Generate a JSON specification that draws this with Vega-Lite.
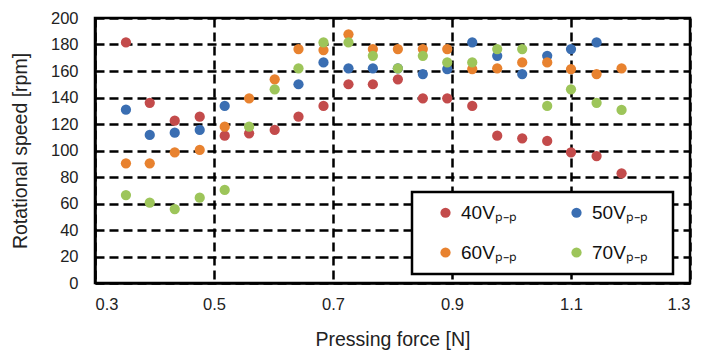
{
  "$schema": "https://vega.github.io/schema/vega-lite/v6.json",
  "width": 595,
  "height": 265,
  "autosize": {"type": "none"},
  "padding": {"left": 95, "top": 18, "right": 14, "bottom": 68},
  "background": "white",
  "config": {
    "font": "Liberation Sans",
    "view": {"stroke": "black", "strokeWidth": 2.5},
    "axis": {
      "grid": true,
      "gridColor": "black",
      "gridDash": [9, 5],
      "gridWidth": 2.5,
      "gridOpacity": 1,
      "domainColor": "black",
      "domainWidth": 2.5,
      "ticks": false,
      "labelColor": "#222222",
      "labelFontSize": 16.5,
      "titleColor": "#222222",
      "titleFontSize": 19.5,
      "titleFontWeight": "normal"
    }
  },
  "data": {
    "values": [
      {"f": 0.352, "s": 181.6, "v": "40"},
      {"f": 0.392, "s": 136, "v": "40"},
      {"f": 0.434, "s": 122.5, "v": "40"},
      {"f": 0.476, "s": 125.5, "v": "40"},
      {"f": 0.518, "s": 111.2, "v": "40"},
      {"f": 0.559, "s": 113, "v": "40"},
      {"f": 0.602, "s": 115.5, "v": "40"},
      {"f": 0.642, "s": 125.5, "v": "40"},
      {"f": 0.684, "s": 133.6, "v": "40"},
      {"f": 0.726, "s": 150, "v": "40"},
      {"f": 0.767, "s": 150, "v": "40"},
      {"f": 0.809, "s": 153.7, "v": "40"},
      {"f": 0.851, "s": 139.4, "v": "40"},
      {"f": 0.892, "s": 139.4, "v": "40"},
      {"f": 0.934, "s": 133.6, "v": "40"},
      {"f": 0.976, "s": 111.2, "v": "40"},
      {"f": 1.018, "s": 109.2, "v": "40"},
      {"f": 1.06, "s": 107.2, "v": "40"},
      {"f": 1.1, "s": 98.6, "v": "40"},
      {"f": 1.143, "s": 95.8, "v": "40"},
      {"f": 1.185, "s": 82.8, "v": "40"},
      {"f": 0.352, "s": 130.8, "v": "50"},
      {"f": 0.392, "s": 111.7, "v": "50"},
      {"f": 0.434, "s": 113.4, "v": "50"},
      {"f": 0.476, "s": 115.5, "v": "50"},
      {"f": 0.518, "s": 133.6, "v": "50"},
      {"f": 0.642, "s": 150, "v": "50"},
      {"f": 0.684, "s": 166.5, "v": "50"},
      {"f": 0.726, "s": 162, "v": "50"},
      {"f": 0.767, "s": 162, "v": "50"},
      {"f": 0.809, "s": 162, "v": "50"},
      {"f": 0.851, "s": 157.7, "v": "50"},
      {"f": 0.892, "s": 161.5, "v": "50"},
      {"f": 0.934, "s": 181.6, "v": "50"},
      {"f": 0.976, "s": 171.5, "v": "50"},
      {"f": 1.018, "s": 157.7, "v": "50"},
      {"f": 1.06, "s": 171.5, "v": "50"},
      {"f": 1.1, "s": 176.6, "v": "50"},
      {"f": 1.143, "s": 181.6, "v": "50"},
      {"f": 0.352, "s": 90.3, "v": "60"},
      {"f": 0.392, "s": 90.3, "v": "60"},
      {"f": 0.434, "s": 98.6, "v": "60"},
      {"f": 0.476, "s": 100.4, "v": "60"},
      {"f": 0.518, "s": 118, "v": "60"},
      {"f": 0.559, "s": 139.4, "v": "60"},
      {"f": 0.602, "s": 153.7, "v": "60"},
      {"f": 0.642, "s": 176.6, "v": "60"},
      {"f": 0.684, "s": 175.8, "v": "60"},
      {"f": 0.726, "s": 187.7, "v": "60"},
      {"f": 0.767, "s": 176.6, "v": "60"},
      {"f": 0.809, "s": 176.6, "v": "60"},
      {"f": 0.851, "s": 176.6, "v": "60"},
      {"f": 0.892, "s": 176.6, "v": "60"},
      {"f": 0.934, "s": 161.5, "v": "60"},
      {"f": 0.976, "s": 162, "v": "60"},
      {"f": 1.018, "s": 166.5, "v": "60"},
      {"f": 1.06, "s": 166.5, "v": "60"},
      {"f": 1.1, "s": 161.5, "v": "60"},
      {"f": 1.143, "s": 157.7, "v": "60"},
      {"f": 1.185, "s": 162, "v": "60"},
      {"f": 0.352, "s": 66.4, "v": "70"},
      {"f": 0.392, "s": 60.6, "v": "70"},
      {"f": 0.434, "s": 55.8, "v": "70"},
      {"f": 0.476, "s": 64.4, "v": "70"},
      {"f": 0.518, "s": 70.2, "v": "70"},
      {"f": 0.559, "s": 118, "v": "70"},
      {"f": 0.602, "s": 146.2, "v": "70"},
      {"f": 0.642, "s": 162, "v": "70"},
      {"f": 0.684, "s": 181.6, "v": "70"},
      {"f": 0.726, "s": 181.6, "v": "70"},
      {"f": 0.767, "s": 171.5, "v": "70"},
      {"f": 0.809, "s": 162, "v": "70"},
      {"f": 0.851, "s": 171.5, "v": "70"},
      {"f": 0.892, "s": 166.5, "v": "70"},
      {"f": 0.934, "s": 166.5, "v": "70"},
      {"f": 0.976, "s": 176.6, "v": "70"},
      {"f": 1.018, "s": 176.6, "v": "70"},
      {"f": 1.06, "s": 133.6, "v": "70"},
      {"f": 1.1, "s": 146.2, "v": "70"},
      {"f": 1.143, "s": 136, "v": "70"},
      {"f": 1.185, "s": 130.6, "v": "70"}
    ]
  },
  "mark": {"type": "point", "filled": true, "shape": "circle", "size": 105, "opacity": 1},
  "encoding": {
    "x": {
      "field": "f",
      "type": "quantitative",
      "scale": {"domain": [0.3, 1.3], "nice": false, "zero": false},
      "axis": {
        "values": [0.3, 0.5, 0.7, 0.9, 1.1, 1.3],
        "format": ".1f",
        "labelPadding": 13,
        "title": "Pressing force [N]",
        "titlePadding": 18
      }
    },
    "y": {
      "field": "s",
      "type": "quantitative",
      "scale": {"domain": [0, 200], "nice": false},
      "axis": {
        "values": [0, 20, 40, 60, 80, 100, 120, 140, 160, 180, 200],
        "labelPadding": 17,
        "title": "Rotational speed [rpm]",
        "titlePadding": 20
      }
    },
    "color": {
      "field": "v",
      "type": "nominal",
      "scale": {
        "domain": ["40", "50", "60", "70"],
        "range": ["#C34B4B", "#3A6EB2", "#E8822F", "#9DC55A"]
      },
      "legend": {
        "title": null,
        "orient": "none",
        "legendX": 317,
        "legendY": 174,
        "columns": 2,
        "direction": "horizontal",
        "labelExpr": "(datum.value == '50' || datum.value == '70') ? datum.label + 'Vₚ₋ₚ\u2800' : datum.label + 'Vₚ₋ₚ'",
        "labelFontSize": 19,
        "labelColor": "#111111",
        "labelOffset": 6,
        "symbolOffset": 13,
        "symbolType": "circle",
        "symbolSize": 105,
        "symbolOpacity": 1,
        "symbolStrokeWidth": 0,
        "columnPadding": 37,
        "rowPadding": 20,
        "padding": 11,
        "fillColor": "white",
        "strokeColor": "black",
        "encode": {"legend": {"update": {"strokeWidth": {"value": 2.5}}}}
      }
    }
  }
}
